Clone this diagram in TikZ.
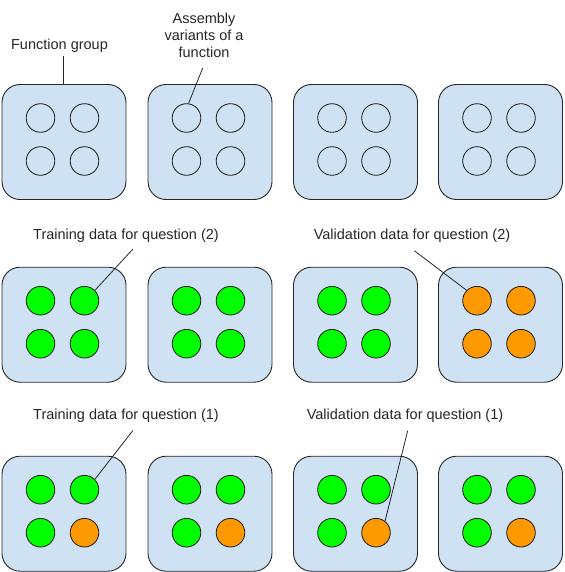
\documentclass[tikz,border=0pt]{standalone}
\usepackage{fontspec}
\setmainfont{Liberation Sans}
\definecolor{boxfill}{HTML}{CFE2F3}
\definecolor{dgreen}{HTML}{00FF00}
\definecolor{dorange}{HTML}{FF9900}
\begin{document}
\begin{tikzpicture}[x=1pt,y=-1pt,
  groupbox/.style={draw=black!85, line width=0.9pt, fill=boxfill, rounded corners=18pt,
    minimum width=124pt, minimum height=115pt, inner sep=0pt},
  variant/.style={circle, draw=black!90, line width=0.8pt, minimum size=28.6pt, inner sep=0pt},
  vtrain/.style={variant, fill=dgreen},
  vval/.style={variant, fill=dorange},
  vnone/.style={variant},
  lbl/.style={font=\fontsize{14.5}{17}\selectfont, text=black!85, inner sep=0pt, anchor=base},
  leader/.style={draw=black!85, line width=0.8pt}]
\useasboundingbox (0,0) rectangle (564,572);
% boxes and circles
\foreach \r/\ty in {1/84,2/266.7,3/455.7}{
  \foreach \c/\cx in {1/64,2/210,3/355.5,4/500.5}{
    \node[groupbox] (b\r\c) at (\cx,\ty+58) {};
  }
}
% style assignment helper
\newcommand{\quadcircles}[6]{% row, col, styleTL, styleTR, styleBL, styleBR
  \path (b#1#2.center) ++(-23.5,-24) node[#3] (c#1#2a) {};
  \path (b#1#2.center) ++(20.5,-24) node[#4] (c#1#2b) {};
  \path (b#1#2.center) ++(-23.5,19) node[#5] (c#1#2c) {};
  \path (b#1#2.center) ++(20.5,19) node[#6] (c#1#2d) {};
}
\quadcircles{1}{1}{vnone}{vnone}{vnone}{vnone}
\quadcircles{1}{2}{vnone}{vnone}{vnone}{vnone}
\quadcircles{1}{3}{vnone}{vnone}{vnone}{vnone}
\quadcircles{1}{4}{vnone}{vnone}{vnone}{vnone}
\quadcircles{2}{1}{vtrain}{vtrain}{vtrain}{vtrain}
\quadcircles{2}{2}{vtrain}{vtrain}{vtrain}{vtrain}
\quadcircles{2}{3}{vtrain}{vtrain}{vtrain}{vtrain}
\quadcircles{2}{4}{vval}{vval}{vval}{vval}
\quadcircles{3}{1}{vtrain}{vtrain}{vtrain}{vval}
\quadcircles{3}{2}{vtrain}{vtrain}{vtrain}{vval}
\quadcircles{3}{3}{vtrain}{vtrain}{vtrain}{vval}
\quadcircles{3}{4}{vtrain}{vtrain}{vtrain}{vval}
% labels
\node[lbl] (tfg) at (59.5,50) {Function group};
\node[lbl, align=center, anchor=north] (tav) at (204,12.5) {Assembly\\variants of a\\function};
\node[lbl] (tt2) at (126,239) {Training data for question (2)};
\node[lbl] (tv2) at (412,239) {Validation data for question (2)};
\node[lbl] (tt1) at (126,419) {Training data for question (1)};
\node[lbl] (tv1) at (405,419) {Validation data for question (1)};
% leader ends
\coordinate (lfg) at (63.3,56);
\coordinate (lav) at (202.7,68);
\coordinate (lt2) at (132.7,249.3);
\coordinate (lv2) at (414.3,250.7);
\coordinate (lt1) at (132.7,430.7);
\coordinate (lv1) at (407.7,430.7);
\draw[leader] (lfg) -- (lfg |- b11.north);
\draw[leader] (lav) -- (c12a.82);
\draw[leader] (lt2) -- (c21b.45);
\draw[leader] (lv2) -- (c24a.135);
\draw[leader] (lt1) -- (c31b.45);
\draw[leader] (lv1) -- (c33d.52);
\end{tikzpicture}
\end{document}
